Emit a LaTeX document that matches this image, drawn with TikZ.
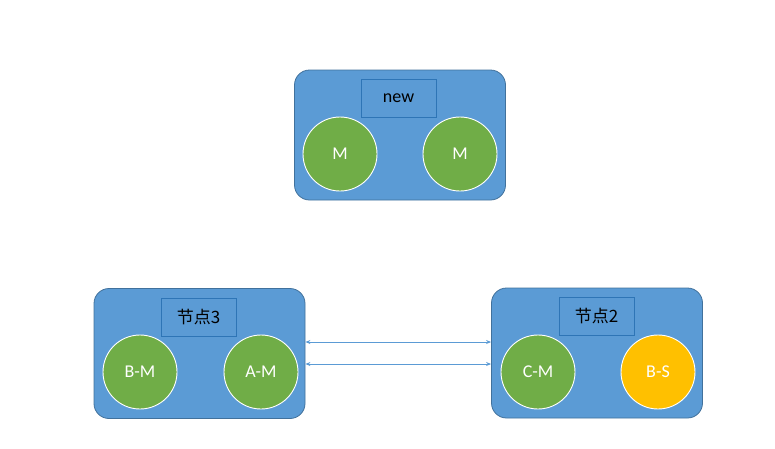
\documentclass[tikz,border=0pt]{standalone}
\usepackage{fontspec}
\setmainfont{Carlito}
\newfontfamily\cjk{Noto Sans CJK SC}
\usetikzlibrary{arrows.meta}
\definecolor{boxblue}{HTML}{5B9BD5}
\definecolor{boxedge}{HTML}{41719C}
\definecolor{tagedge}{HTML}{2E75B6}
\definecolor{mgreen}{HTML}{70AD47}
\definecolor{sgold}{HTML}{FFC000}
\tikzset{
  group/.style={draw=boxedge, fill=boxblue, rounded corners=15pt, line width=0.8pt,
    minimum width=211pt, minimum height=130pt},
  tag/.style={draw=tagedge, fill=boxblue, line width=0.9pt, minimum width=75pt,
    minimum height=38pt, font=\fontsize{18}{20}\selectfont},
  shard/.style={circle, draw=white, line width=0.9pt, fill=mgreen, minimum size=74pt,
    inner sep=0pt, text=white, font=\fontsize{18}{20}\selectfont},
  slave/.style={shard, fill=sgold},
  link/.style={{Stealth[length=5pt,width=4pt]}-{Stealth[length=5pt,width=4pt]},
    draw=boxblue, line width=1pt}
}
\begin{document}
\begin{tikzpicture}[x=1pt,y=-1pt]
  \useasboundingbox (0,0) rectangle (775,448);

  % new node on top
  \node[group] (new) at (400,135) {};
  \node[tag] (newtag) at (398.5,98) {new};
  \node[shard] (newm1) at (340,154) {M};
  \node[shard] (newm2) at (460,154) {M};

  % node 3, left
  \node[group] (n3) at (199.5,353.5) {};
  \node[tag] (n3tag) at (198.5,317.5) {\cjk\fontsize{17}{19}\selectfont 节点3};
  \node[shard] (bm) at (140,372) {B-M};
  \node[shard] (am) at (261,372) {A-M};

  % node 2, right
  \node[group] (n2) at (597,353) {};
  \node[tag] (n2tag) at (596.5,316) {\cjk\fontsize{17}{19}\selectfont 节点2};
  \node[shard] (cm) at (538,372) {C-M};
  \node[slave] (bs) at (658,372) {B-S};

  % links between the two nodes
  \draw[link] (n3.east |- 0,342) -- (n2.west |- 0,342);
  \draw[link] (n3.east |- 0,364) -- (n2.west |- 0,364);
\end{tikzpicture}
\end{document}
